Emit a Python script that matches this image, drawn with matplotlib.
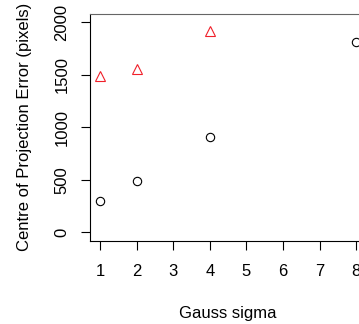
import matplotlib
matplotlib.use("Agg")
import matplotlib.pyplot as plt

plt.rcParams['font.family'] = ['Liberation Sans', 'DejaVu Sans']

sigma_circ = [1, 2, 4, 8]
err_circ = [295, 491, 910, 1810]
sigma_tri = [1, 2, 4]
err_tri = [1490, 1560, 1920]

xticks = [1, 2, 3, 4, 5, 6, 7, 8]
yticks = [0, 500, 1000, 1500, 2000]

fig = plt.figure(figsize=(3.59, 3.24), dpi=100)
ax = fig.add_axes([89.7/359, 1-240.7/324, (366.6-89.7)/359, (240.7-14)/324])

ax.plot(sigma_circ, err_circ, linestyle='none', marker='o', markersize=6,
        markerfacecolor='none', markeredgecolor='black', markeredgewidth=0.8)
ax.plot(sigma_tri, err_tri, linestyle='none', marker='^', markersize=7.5,
        markerfacecolor='none', markeredgecolor='#f0202a', markeredgewidth=0.8)

ax.set_xlim(0.72, 8.28)
ax.set_ylim(-80, 2080)
ax.set_xticks(xticks)
ax.set_yticks(yticks)
ax.set_yticklabels([str(v) for v in yticks], rotation=90, va='center')
for s in ax.spines.values():
    s.set_linewidth(0.8)
ax.spines['top'].set_color('#666666')
ax.tick_params(direction='out', length=6.5, width=0.8, labelsize=12)
ax.tick_params(axis='x', pad=10)
ax.tick_params(axis='y', pad=8)
ax.set_xlabel('Gauss sigma', fontsize=12, labelpad=20)
ax.set_ylabel('Centre of Projection Error (pixels)', fontsize=12, labelpad=16)

fig.savefig('out.png', dpi=100)
